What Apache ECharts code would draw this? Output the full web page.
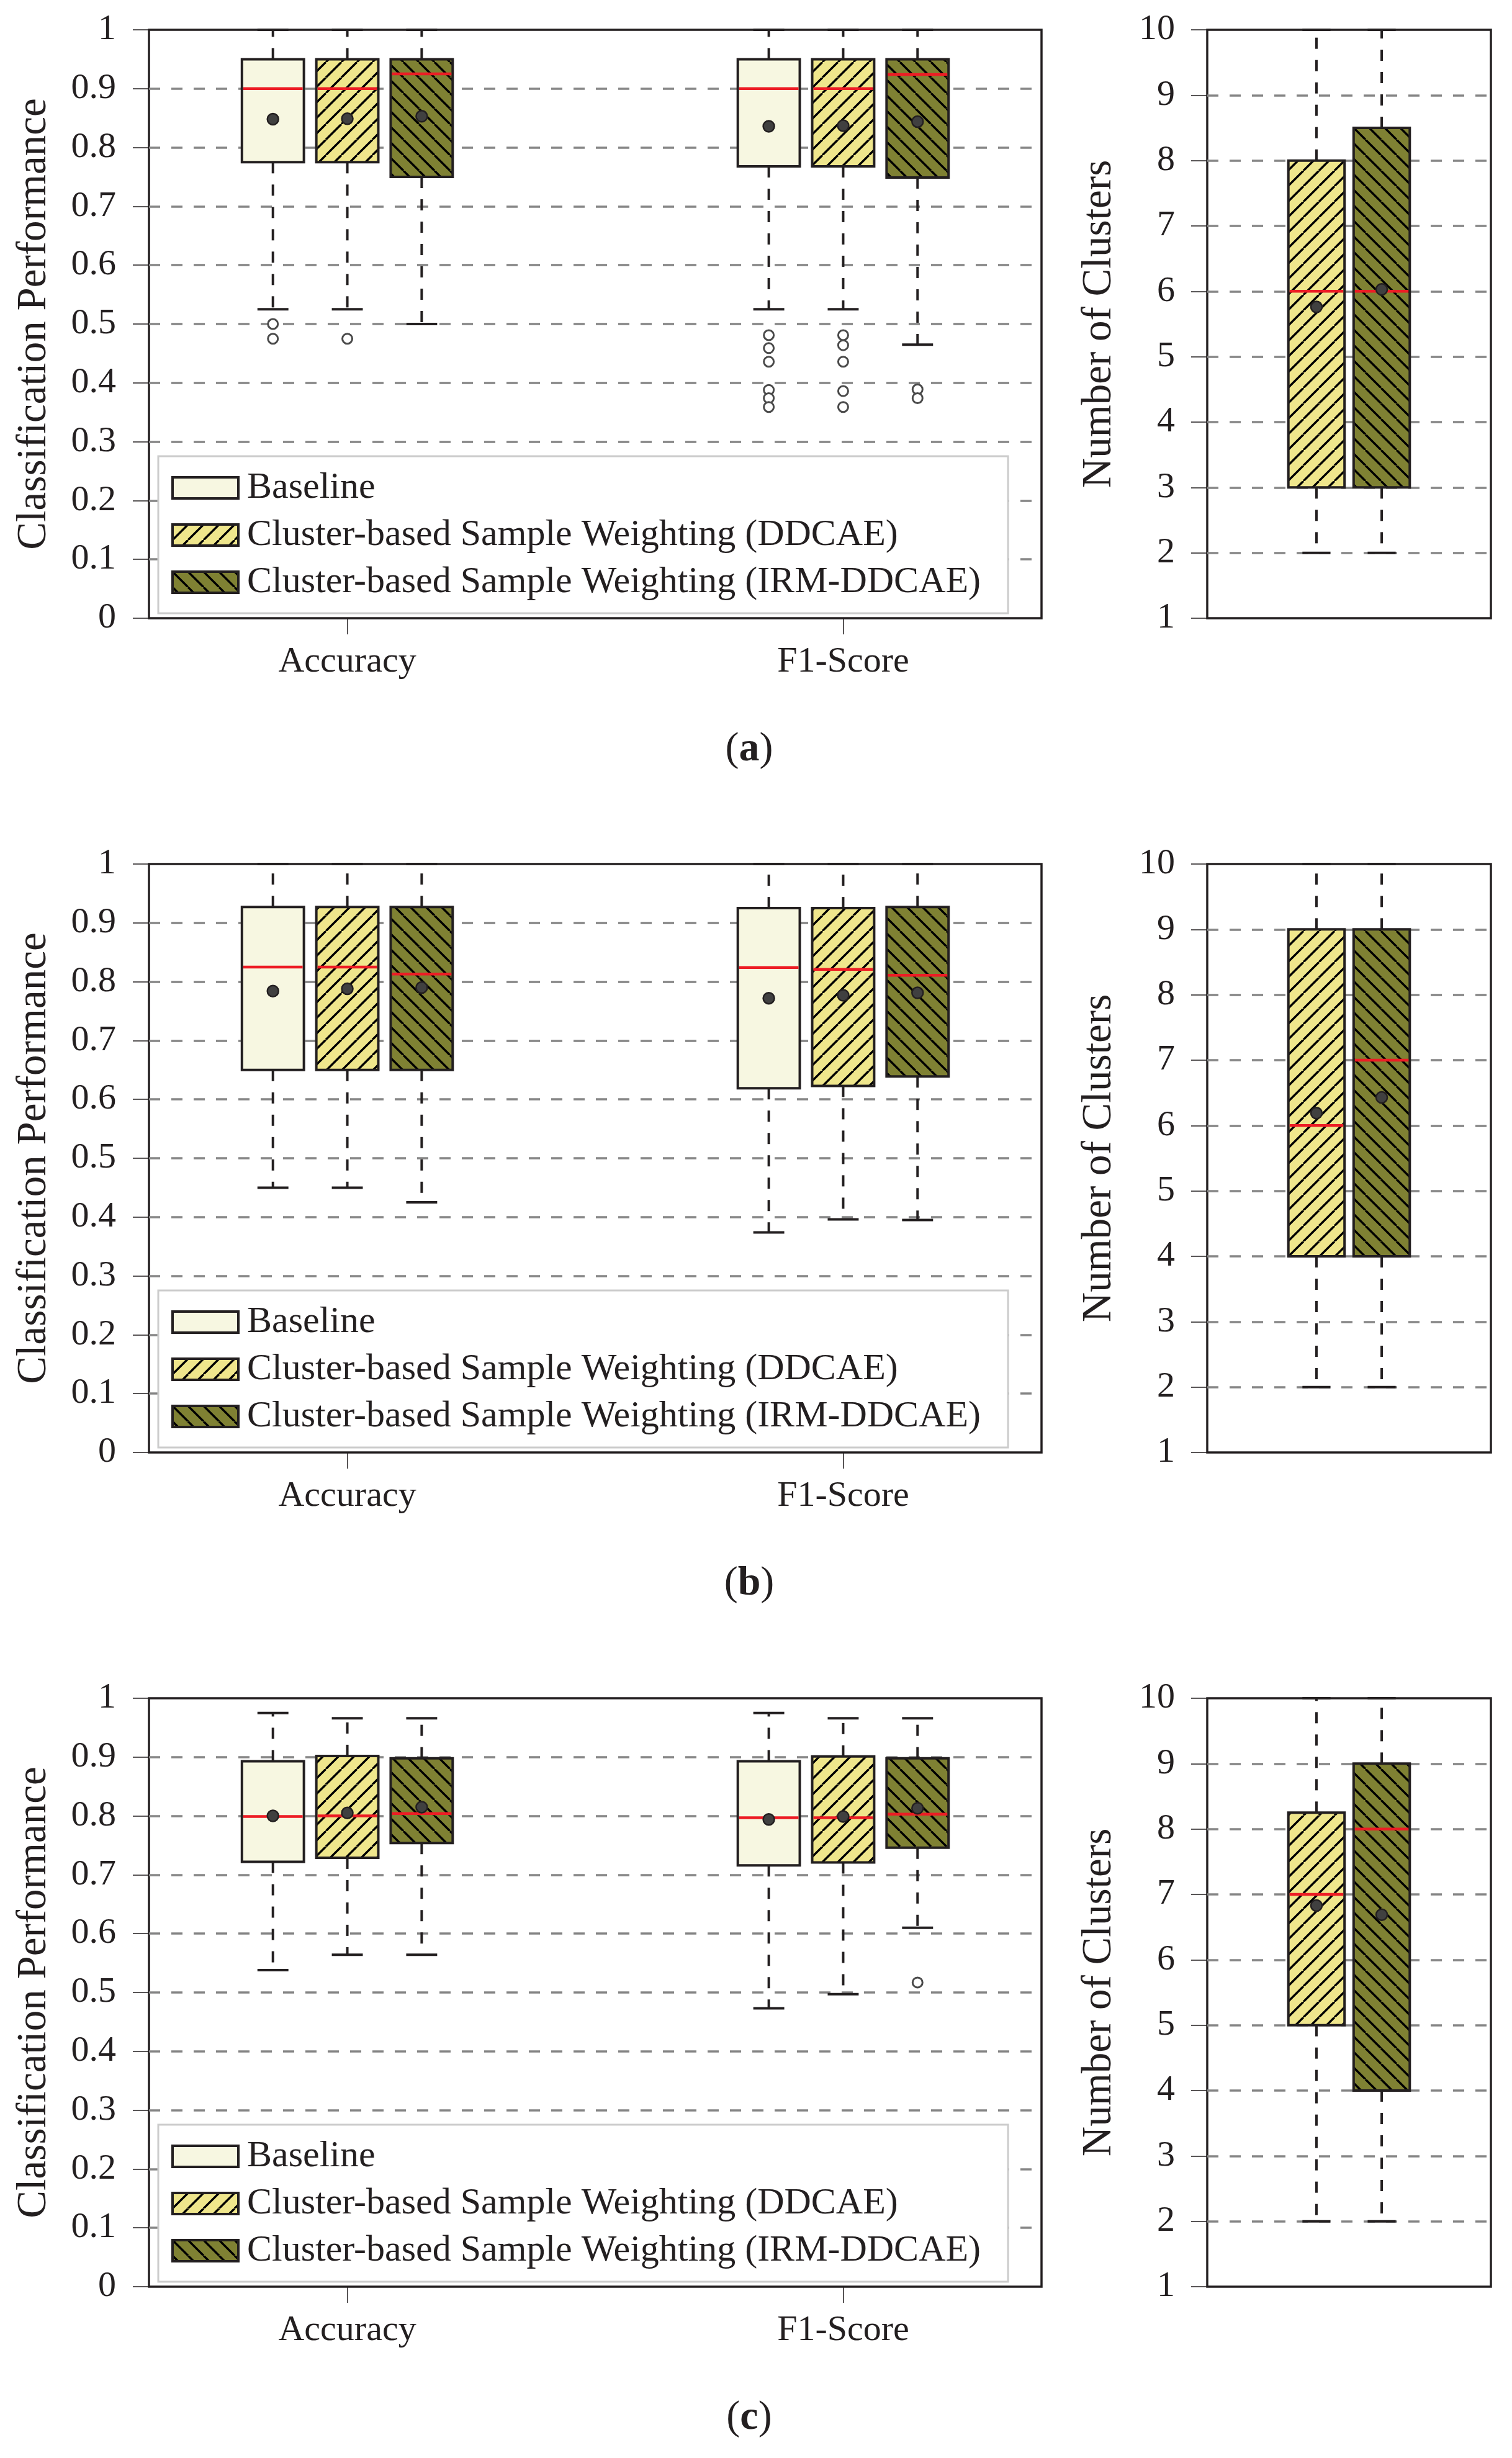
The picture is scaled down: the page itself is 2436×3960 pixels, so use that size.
<!DOCTYPE html>
<html>
<head>
<meta charset="utf-8">
<script src="https://cdn.jsdelivr.net/npm/echarts@6/dist/echarts.min.js"></script>
<style>
  html, body { margin: 0; padding: 0; background: #fff; }
  #main { width: 2436px; height: 3960px; }
</style>
</head>
<body>
<div id="main"></div>
<script>
  /** Data */
  var methods = ['Baseline', 'Cluster-based Sample Weighting (DDCAE)', 'Cluster-based Sample Weighting (IRM-DDCAE)'];
  var metrics = ['Accuracy', 'F1-Score'];
  var panelTags = ['a', 'b', 'c'];

  // [method][metric] = [lower whisker, q1, median, q3, upper whisker]
  var perfBoxA = [
    [[0.525, 0.775, 0.900, 0.950, 1.000], [0.525, 0.768, 0.900, 0.950, 1.000]],
    [[0.525, 0.775, 0.900, 0.950, 1.000], [0.525, 0.768, 0.900, 0.950, 1.000]],
    [[0.500, 0.750, 0.925, 0.950, 1.000], [0.465, 0.749, 0.924, 0.950, 1.000]]
  ];
  var perfMeanA = [[0.848, 0.836], [0.849, 0.837], [0.853, 0.844]];
  var perfOutA = [
    [[0.500, 0.475], [0.481, 0.459, 0.436, 0.388, 0.374, 0.359]],
    [[0.475], [0.481, 0.464, 0.436, 0.386, 0.359]],
    [[], [0.389, 0.374]]
  ];
  // [method] = [lower whisker, q1, median, q3, upper whisker]
  var clusBoxA = [[2, 3, 6, 8, 10], [2, 3, 6, 8.5, 10]];
  var clusMeanA = [5.76, 6.03];

  var perfBoxB = [
    [[0.450, 0.650, 0.825, 0.927, 1.000], [0.374, 0.619, 0.824, 0.925, 1.000]],
    [[0.450, 0.650, 0.825, 0.927, 1.000], [0.396, 0.623, 0.821, 0.925, 1.000]],
    [[0.425, 0.650, 0.813, 0.927, 1.000], [0.395, 0.639, 0.811, 0.927, 1.000]]
  ];
  var perfMeanB = [[0.784, 0.772], [0.788, 0.777], [0.790, 0.781]];
  var perfOutB = [[[], []], [[], []], [[], []]];
  var clusBoxB = [[2, 4, 6, 9, 10], [2, 4, 7, 9, 10]];
  var clusMeanB = [6.19, 6.43];

  var perfBoxC = [
    [[0.538, 0.722, 0.799, 0.893, 0.975], [0.473, 0.716, 0.797, 0.893, 0.975]],
    [[0.564, 0.729, 0.800, 0.902, 0.966], [0.497, 0.721, 0.797, 0.901, 0.966]],
    [[0.564, 0.754, 0.804, 0.898, 0.966], [0.610, 0.746, 0.803, 0.898, 0.966]]
  ];
  var perfMeanC = [[0.800, 0.794], [0.805, 0.799], [0.815, 0.813]];
  var perfOutC = [[[], []], [[], []], [[], [0.517]]];
  var clusBoxC = [[2, 5, 7, 8.25, 10], [2, 4, 8, 9, 10]];
  var clusMeanC = [6.83, 6.69];

  var perfBoxes = [perfBoxA, perfBoxB, perfBoxC];
  var perfMeans = [perfMeanA, perfMeanB, perfMeanC];
  var perfOuts = [perfOutA, perfOutB, perfOutC];
  var clusBoxes = [clusBoxA, clusBoxB, clusBoxC];
  var clusMeans = [clusMeanA, clusMeanB, clusMeanC];

  /** Layout */
  var FONT = 'Liberation Serif';
  var INK = '#231f20';
  var frameTop = [48, 1392, 2736];
  var frameH = 948;
  var metricPos = [1, 2];
  var perfOffset = [-0.15, 0, 0.15], perfBoxW = 0.125;
  var clusOffset = [-0.115, 0.115], clusBoxW = 0.198;

  function hatch(bg, dir) {
    var s = 25;
    var c = document.createElement('canvas');
    c.width = s; c.height = s;
    var g = c.getContext('2d');
    g.fillStyle = bg;
    g.fillRect(0, 0, s, s);
    g.strokeStyle = '#000';
    g.lineWidth = 3.4;
    g.beginPath();
    for (var k = -1; k <= 1; k++) {
      if (dir === 'ne') { g.moveTo(k * s, s); g.lineTo(k * s + s, 0); }
      else { g.moveTo(k * s, 0); g.lineTo(k * s + s, s); }
    }
    g.stroke();
    return { image: c, repeat: 'repeat' };
  }
  var fills = ['#f7f7e1', hatch('#efe68c', 'ne'), hatch('#7f8133', 'nw')];

  function boxSeries(name, data, fill, boxW, axisIdx) {
    return {
      type: 'custom', name: name,
      xAxisIndex: axisIdx, yAxisIndex: axisIdx,
      itemStyle: { color: fill },
      encode: { x: 0, y: [1, 2, 3, 4, 5] },
      data: data,
      z: 3,
      renderItem: function(params, api) {
        var x = api.value(0);
        var tl = api.coord([x - boxW / 2, api.value(4)]);
        var br = api.coord([x + boxW / 2, api.value(2)]);
        var cx = api.coord([x, 0])[0];
        var yLo = api.coord([x, api.value(1)])[1];
        var yHi = api.coord([x, api.value(5)])[1];
        var yMed = api.coord([x, api.value(3)])[1];
        var cap = (br[0] - tl[0]) / 4;
        var dash = { stroke: INK, lineWidth: 4, lineDash: [18, 18] };
        var solid = { stroke: INK, lineWidth: 4 };
        return {
          type: 'group',
          children: [
            { type: 'line', shape: { x1: cx, y1: tl[1], x2: cx, y2: yHi }, style: dash },
            { type: 'line', shape: { x1: cx, y1: br[1], x2: cx, y2: yLo }, style: dash },
            { type: 'line', shape: { x1: cx - cap, y1: yHi, x2: cx + cap, y2: yHi }, style: solid },
            { type: 'line', shape: { x1: cx - cap, y1: yLo, x2: cx + cap, y2: yLo }, style: solid },
            { type: 'rect', shape: { x: tl[0], y: tl[1], width: br[0] - tl[0], height: br[1] - tl[1] },
              style: { fill: fill, stroke: INK, lineWidth: 4 } },
            { type: 'line', shape: { x1: tl[0] + 2, y1: yMed, x2: br[0] - 2, y2: yMed },
              style: { stroke: '#ed1c24', lineWidth: 4.5 } }
          ]
        };
      }
    };
  }

  var grids = [], xAxes = [], yAxes = [], series = [], legends = [], graphics = [];
  var tickStyle = { color: INK, width: 1.5 };
  var gridLineStyle = { color: '#868686', width: 3.5, type: [18, 18] };
  var labelStyle = { fontFamily: FONT, fontSize: 58, color: INK };

  frameTop.forEach(function(top, p) {
    var li = p * 2, ri = p * 2 + 1;
    grids.push({ left: 240, top: top, width: 1438, height: frameH, show: true,
      borderColor: INK, borderWidth: 3.5, backgroundColor: '#fff' });
    grids.push({ left: 1945, top: top, width: 457, height: frameH, show: true,
      borderColor: INK, borderWidth: 3.5, backgroundColor: '#fff' });

    xAxes.push({
      gridIndex: li, type: 'value', min: 0.6, max: 2.4,
      axisLine: { show: false }, splitLine: { show: false },
      axisTick: { show: true, customValues: metricPos, length: 26, lineStyle: tickStyle },
      axisLabel: Object.assign({ customValues: metricPos, margin: 42,
        formatter: function(v) { return metrics[Math.round(v) - 1] || ''; } }, labelStyle)
    });
    xAxes.push({
      gridIndex: ri, type: 'value', min: 0.5, max: 1.5,
      axisLine: { show: false }, axisTick: { show: false }, axisLabel: { show: false }, splitLine: { show: false }
    });

    yAxes.push({
      gridIndex: li, type: 'value', min: 0, max: 1, interval: 0.1,
      axisLine: { show: false },
      axisTick: { show: true, length: 26, lineStyle: tickStyle },
      axisLabel: Object.assign({ margin: 53, formatter: function(v) { return String(+v.toFixed(1)); } }, labelStyle),
      splitLine: { show: true, showMinLine: false, showMaxLine: false, lineStyle: gridLineStyle },
      name: 'Classification Performance', nameLocation: 'middle', nameGap: 151,
      nameTextStyle: { fontFamily: FONT, fontSize: 67, color: INK }
    });
    yAxes.push({
      gridIndex: ri, type: 'value', min: 1, max: 10, interval: 1,
      axisLine: { show: false },
      axisTick: { show: true, length: 26, lineStyle: tickStyle },
      axisLabel: Object.assign({ margin: 52 }, labelStyle),
      splitLine: { show: true, showMinLine: false, showMaxLine: false, lineStyle: gridLineStyle },
      name: 'Number of Clusters', nameLocation: 'middle', nameGap: 140,
      nameTextStyle: { fontFamily: FONT, fontSize: 67, color: INK }
    });

    // performance boxes
    var means = [], outs = [];
    methods.forEach(function(m, i) {
      var data = metricPos.map(function(x, j) {
        return [x + perfOffset[i]].concat(perfBoxes[p][i][j]);
      });
      series.push(boxSeries(m, data, fills[i], perfBoxW, li));
      metricPos.forEach(function(x, j) {
        means.push([x + perfOffset[i], perfMeans[p][i][j]]);
        perfOuts[p][i][j].forEach(function(v) { outs.push([x + perfOffset[i], v]); });
      });
    });

    // cluster boxes
    var cMeans = [];
    clusBoxes[p].forEach(function(b, i) {
      series.push(boxSeries(methods[i + 1], [[1 + clusOffset[i]].concat(b)], fills[i + 1], clusBoxW, ri));
      cMeans.push([1 + clusOffset[i], clusMeans[p][i]]);
    });

    var meanStyle = { color: '#404040', borderColor: INK, borderWidth: 2.5, opacity: 1 };
    series.push({ type: 'scatter', name: 'mean', xAxisIndex: li, yAxisIndex: li, data: means,
      symbol: 'circle', symbolSize: 18, itemStyle: meanStyle, z: 5 });
    series.push({ type: 'scatter', name: 'mean', xAxisIndex: ri, yAxisIndex: ri, data: cMeans,
      symbol: 'circle', symbolSize: 18, itemStyle: meanStyle, z: 5 });
    series.push({ type: 'scatter', name: 'outlier', xAxisIndex: li, yAxisIndex: li, data: outs,
      symbol: 'circle', symbolSize: 16,
      itemStyle: { color: '#fff', borderColor: '#4a4a4a', borderWidth: 3, opacity: 1 }, z: 5 });

    legends.push({
      left: 255, top: top + 687, orient: 'vertical', selectedMode: false,
      padding: [21, 44, 20, 21], itemGap: 16, itemWidth: 106, itemHeight: 34,
      backgroundColor: '#fff', borderColor: '#cccccc', borderWidth: 3,
      textStyle: { fontFamily: FONT, fontSize: 60, lineHeight: 60, color: INK, padding: [0, 0, 0, 9] },
      data: methods.map(function(m, i) {
        return { name: m, icon: 'rect', itemStyle: { color: fills[i], borderColor: INK, borderWidth: 4 } };
      })
    });

    graphics.push({
      type: 'text', x: 1207, y: top + frameH + 212,
      style: {
        text: '{n|(}{b|' + panelTags[p] + '}{n|)}', align: 'center', verticalAlign: 'middle',
        rich: {
          n: { fontFamily: FONT, fontSize: 66, fill: INK },
          b: { fontFamily: FONT, fontSize: 66, fontWeight: 'bold', fill: INK }
        }
      }
    });
  });

  var chart = echarts.init(document.getElementById('main'), null, { renderer: 'canvas' });
  chart.setOption({
    animation: false,
    backgroundColor: '#fff',
    grid: grids,
    xAxis: xAxes,
    yAxis: yAxes,
    legend: legends,
    graphic: graphics,
    series: series
  });
</script>
</body>
</html>
